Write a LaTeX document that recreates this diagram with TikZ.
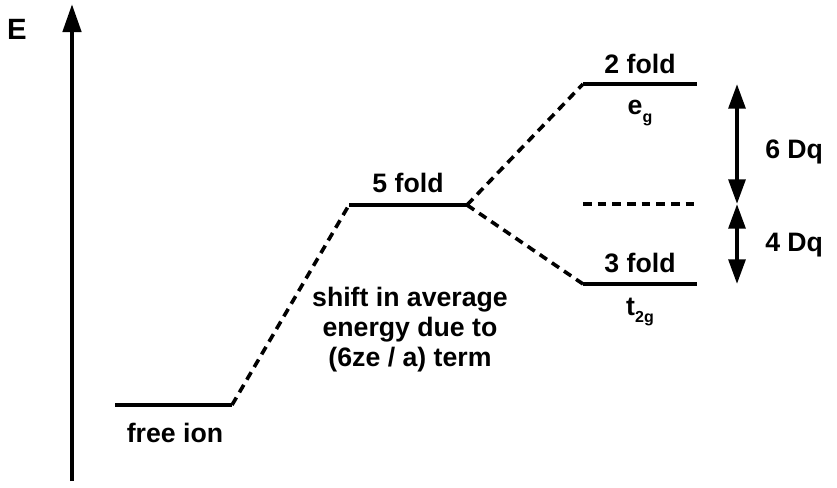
\documentclass[tikz,border=0pt]{standalone}
\usepackage{fontspec}
\setmainfont{Liberation Sans}
\usetikzlibrary{arrows.meta,positioning,calc}
\tikzset{
  lvl/.style={line width=2.4pt, black},
  link/.style={line width=2.7pt, black, dash pattern=on 6.5pt off 4.5pt},
  axis/.style={line width=3.4pt, -{Triangle[length=21pt, width=13.5pt]}},
  gap/.style={line width=3pt, {Triangle[length=18.5pt, width=12.5pt]}-{Triangle[length=18.5pt, width=12.5pt]}},
  lbl/.style={font=\fontsize{20}{24}\selectfont\bfseries, inner sep=0pt, align=center},
}
\newcommand{\subtxt}[1]{\raisebox{-0.55ex}{\fontsize{12}{12}\selectfont #1}}
\begin{document}
\begin{tikzpicture}[x=0.75pt, y=-0.75pt]
  \useasboundingbox (0,0) rectangle (837,487);
  % energy axis
  \coordinate (ax-b) at (72,481);
  \coordinate (ax-t) at (72,4);
  \draw[axis] (ax-b) -- (ax-t);
  \node[lbl, font=\fontsize{22}{24}\selectfont\bfseries] (elab) at (17,29) {E};
  % levels
  \coordinate (free-l) at (115,405);
  \coordinate (free-r) at (232,405);
  \coordinate (five-l) at (349,205);
  \coordinate (five-r) at (467,205);
  \coordinate (eg-l) at (583,84);
  \coordinate (eg-r) at (697,84);
  \coordinate (mid-l) at (583,204);
  \coordinate (mid-r) at (697,204);
  \coordinate (tg-l) at (583,284);
  \coordinate (tg-r) at (697,284);
  \foreach \a in {free,five,eg,tg}{\draw[lvl] (\a-l) -- (\a-r);}
  \draw[link] (mid-l) -- (mid-r);
  \draw[link] (free-r) -- (five-l);
  \draw[link] (five-r) -- (eg-l);
  \draw[link] (five-r) -- (tg-l);
  % labels
  \node[lbl] (freelab) at (175,433) {free ion};
  \node[lbl] (fivelab) at (408,183) {5 fold};
  \node[lbl] (twolab) at (640,64) {2 fold};
  \node[lbl] (eglab) at (640,113) {e\subtxt{g}};
  \node[lbl] (threelab) at (640,263) {3 fold};
  \node[lbl] (tglab) at (640,312) {t\subtxt{2g}};
  \node[lbl, font=\fontsize{20}{22.5}\selectfont\bfseries] (shift) at (410,330) {shift in average\\energy due to\\(6ze / a) term};
  % splitting
  \coordinate (d-top) at (737,84);
  \coordinate (d-mid) at (737,204);
  \coordinate (d-bot) at (737,284);
  \draw[gap] (d-top) -- (d-mid);
  \draw[gap] (d-mid) -- (d-bot);
  \node[lbl, anchor=west] (sixdq) at (765,152) {6 Dq};
  \node[lbl, anchor=west] (fourdq) at (765,245) {4 Dq};
\end{tikzpicture}
\end{document}
